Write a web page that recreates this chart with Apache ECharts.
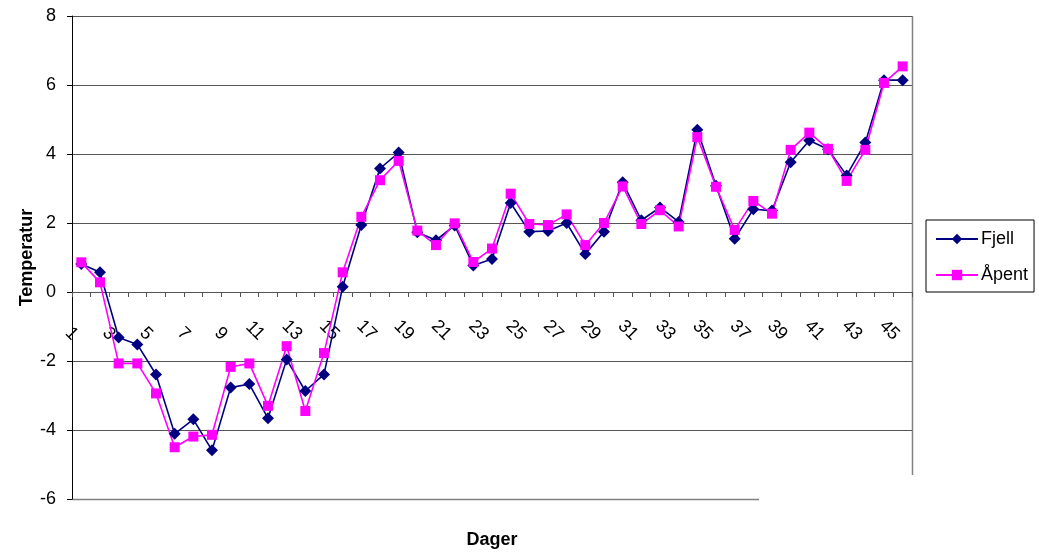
<!DOCTYPE html>
<html>
<head>
<meta charset="utf-8">
<script src="https://cdn.jsdelivr.net/npm/echarts@6/dist/echarts.min.js"></script>
<style>
  html, body { margin: 0; padding: 0; background: #fff; }
  #chart { width: 1039px; height: 554px; }
</style>
</head>
<body>
<div id="chart"></div>
<script>
const days = ['1','2','3','4','5','6','7','8','9','10','11','12','13','14','15','16','17','18','19','20','21','22','23','24','25','26','27','28','29','30','31','32','33','34','35','36','37','38','39','40','41','42','43','44','45'];
const fjell = [0.81, 0.57, -1.32, -1.52, -2.39, -4.11, -3.69, -4.59, -2.77, -2.67, -3.66, -1.96, -2.87, -2.39, 0.15, 1.94, 3.58, 4.04, 1.73, 1.5, 1.93, 0.77, 0.96, 2.58, 1.75, 1.77, 2.0, 1.1, 1.75, 3.18, 2.08, 2.45, 2.03, 4.7, 3.08, 1.54, 2.4, 2.36, 3.76, 4.39, 4.14, 3.38, 4.33, 6.14, 6.14];
const apent = [0.86, 0.28, -2.07, -2.07, -2.94, -4.5, -4.19, -4.14, -2.17, -2.07, -3.3, -1.57, -3.45, -1.77, 0.57, 2.18, 3.24, 3.8, 1.78, 1.36, 1.99, 0.87, 1.26, 2.85, 1.97, 1.94, 2.25, 1.36, 2.0, 3.06, 1.97, 2.37, 1.9, 4.49, 3.05, 1.8, 2.64, 2.27, 4.12, 4.62, 4.15, 3.22, 4.12, 6.06, 6.54];
const yTicks = { min: -6, max: 8, interval: 2 };
const seriesNames = ['Fjell', 'Åpent'];

const FONT = '"Liberation Sans", Arial, sans-serif';
const GRID = { left: 72, right: 127, top: 16, bottom: 55 };
const W = 1039, H = 554;
const gridColor = '#555555';
const plotH = H - GRID.top - GRID.bottom;
// place the category axis where the value axis crosses zero
const zeroOffset = -plotH * (0 - yTicks.min) / (yTicks.max - yTicks.min);

const chart = echarts.init(document.getElementById('chart'), null, { renderer: 'canvas' });

const splitColors = [];
for (let v = yTicks.min; v <= yTicks.max; v += yTicks.interval) {
  splitColors.push(v === yTicks.min ? 'rgba(0,0,0,0)' : gridColor);
}

chart.setOption({
  animation: false,
  backgroundColor: '#ffffff',
  textStyle: { fontFamily: FONT },
  grid: { left: GRID.left, right: GRID.right, top: GRID.top, bottom: GRID.bottom, containLabel: false, outerBoundsMode: 'none' },
  legend: {
    orient: 'vertical',
    left: 926,
    top: 220,
    padding: [10, 6, 8, 9],
    itemGap: 18,
    itemWidth: 42,
    itemHeight: 13,
    borderColor: '#000',
    borderWidth: 1,
    textStyle: { fontFamily: FONT, fontSize: 18, color: '#000', padding: [0, 0, 0, -2] },
    data: seriesNames
  },
  xAxis: {
    type: 'category',
    data: days,
    boundaryGap: true,
    position: 'bottom',
    offset: zeroOffset,
    name: 'Dager',
    nameLocation: 'middle',
    nameGap: 239,
    nameMoveOverlap: false,
    nameTextStyle: { fontFamily: FONT, fontSize: 18, fontWeight: 'bold', color: '#000' },
    axisLine: { onZero: false, lineStyle: { color: gridColor, width: 1 } },
    axisTick: { show: true, interval: 0, length: 5, lineStyle: { color: gridColor } },
    axisLabel: {
      interval: 1,
      rotate: -45,
      align: 'right',
      verticalAlign: 'top',
      margin: 39,
      fontFamily: FONT,
      fontSize: 18,
      color: '#000'
    },
    splitLine: { show: false }
  },
  yAxis: {
    type: 'value',
    min: yTicks.min,
    max: yTicks.max,
    interval: yTicks.interval,
    name: 'Temperatur',
    nameLocation: 'middle',
    nameGap: 36,
    nameMoveOverlap: false,
    nameTextStyle: { fontFamily: FONT, fontSize: 18, fontWeight: 'bold', color: '#000' },
    axisLine: { show: true, lineStyle: { color: '#000', width: 1 } },
    axisTick: { show: true, length: 5, lineStyle: { color: '#000' } },
    axisLabel: { margin: 16, fontFamily: FONT, fontSize: 18, color: '#000' },
    splitLine: { show: true, lineStyle: { color: splitColors, width: 1 } }
  },
  series: [
    {
      name: seriesNames[0],
      type: 'line',
      data: fjell,
      symbol: 'diamond',
      symbolSize: 12,
      lineStyle: { color: '#000080', width: 1.6 },
      itemStyle: { color: '#000080' },
      emphasis: { disabled: true }
    },
    {
      name: seriesNames[1],
      type: 'line',
      data: apent,
      symbol: 'rect',
      symbolSize: 10,
      lineStyle: { color: '#FF00FF', width: 1.6 },
      itemStyle: { color: '#FF00FF' },
      emphasis: { disabled: true }
    }
  ],
  graphic: [
    {
      type: 'line',
      silent: true,
      shape: { x1: W - GRID.right + 0.5, y1: GRID.top, x2: W - GRID.right + 0.5, y2: 475 },
      style: { stroke: '#808080', lineWidth: 1.5 }
    },
    {
      type: 'line',
      silent: true,
      shape: { x1: GRID.left, y1: H - GRID.bottom + 0.5, x2: 759, y2: H - GRID.bottom + 0.5 },
      style: { stroke: '#808080', lineWidth: 1.5 }
    }
  ]
});
</script>
</body>
</html>
